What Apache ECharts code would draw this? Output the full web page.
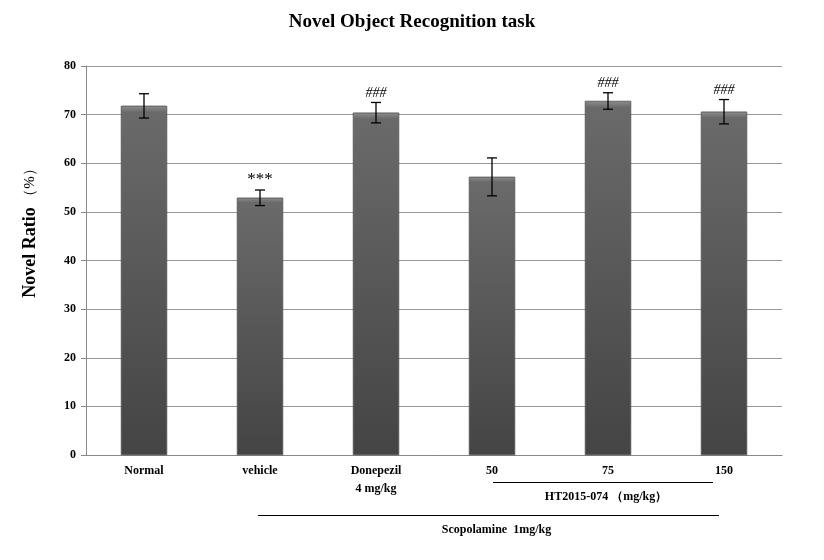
<!DOCTYPE html>
<html><head><meta charset="utf-8">
<script src="https://cdn.jsdelivr.net/npm/echarts@6/dist/echarts.min.js"></script>
<style>html,body{margin:0;padding:0;background:#fff}#c{width:824px;height:560px}</style>
</head><body><div id="c"></div>
<script>
var categories = ['Normal', 'vehicle', 'Donepezil\n4 mg/kg', '50', '75', '150'];
var values = [71.8, 52.9, 70.4, 57.2, 72.8, 70.6];
var errors = [2.5, 1.6, 2.1, 3.9, 1.7, 2.5];
var marks = ['', '***', '###', '', '###', '###'];
var yTicks = [0, 10, 20, 30, 40, 50, 60, 70, 80];

var serif = '"Liberation Serif","DejaVu Serif",serif';
var chart = echarts.init(document.getElementById('c'));
var errData = values.map(function (v, i) { return [i, v - errors[i], v + errors[i], marks[i]]; });

chart.setOption({
  animation: false,
  title: { text: 'Novel Object Recognition task', left: 'center', top: 8,
    textStyle: { fontFamily: serif, fontWeight: 'bold', fontSize: 19, color: '#000' } },
  grid: { left: 86, right: 42, top: 66, bottom: 105 },
  xAxis: { type: 'category', data: categories,
    axisLine: { lineStyle: { color: '#888' } }, axisTick: { show: false },
    axisLabel: { fontFamily: serif, fontWeight: 'bold', fontSize: 12, color: '#000', margin: 7, lineHeight: 18 } },
  yAxis: { type: 'value', min: yTicks[0], max: yTicks[yTicks.length - 1], interval: 10,
    axisLine: { show: true, lineStyle: { color: '#888' } },
    axisTick: { show: true, inside: false, length: 5, lineStyle: { color: '#888' } },
    splitLine: { lineStyle: { color: '#999', width: 1 } },
    axisLabel: { fontFamily: serif, fontWeight: 'bold', fontSize: 12, color: '#000', margin: 10 } },
  series: [
    { type: 'bar', data: values, barWidth: 46,
      itemStyle: { color: new echarts.graphic.LinearGradient(0, 0, 0, 1, [
        { offset: 0, color: '#8e8e8e' }, { offset: 0.018, color: '#6a6a6a' },
        { offset: 1, color: '#444' }]), borderColor: '#555', borderWidth: 0.5 } },
    { type: 'custom', data: errData, z: 10,
      renderItem: function (params, api) {
        var x = api.value(0);
        var lo = api.coord([x, api.value(1)]);
        var hi = api.coord([x, api.value(2)]);
        var w = 5;
        var st = { stroke: '#000', lineWidth: 1.3 };
        var children = [
          { type: 'line', shape: { x1: lo[0], y1: lo[1], x2: hi[0], y2: hi[1] }, style: st },
          { type: 'line', shape: { x1: lo[0] - w, y1: lo[1], x2: lo[0] + w, y2: lo[1] }, style: st },
          { type: 'line', shape: { x1: hi[0] - w, y1: hi[1], x2: hi[0] + w, y2: hi[1] }, style: st }
        ];
        var m = api.value(3);
        if (m) {
          children.push({ type: 'text', x: hi[0], y: hi[1] - 2,
            style: { text: m, textAlign: 'center', textVerticalAlign: 'bottom',
              fontFamily: serif, fontSize: m === '***' ? 17 : 14, fontStyle: m === '###' ? 'italic' : 'normal',
              fill: '#000' } });
        }
        return { type: 'group', children: children };
      } }
  ]
});

function drawExtras() {
  var y0 = Math.round(chart.convertToPixel({ yAxisIndex: 0 }, 0));
  var yTop = chart.convertToPixel({ yAxisIndex: 0 }, 80);
  var p50 = chart.convertToPixel({ xAxisIndex: 0 }, '50');
  var p150 = chart.convertToPixel({ xAxisIndex: 0 }, '150');
  var pVeh = chart.convertToPixel({ xAxisIndex: 0 }, 'vehicle');
  var ht1 = Math.round(p50 + 1), ht2 = Math.round(p150 - 11);
  var sc1 = Math.round(pVeh - 2), sc2 = Math.round(p150 - 5);
  var tf = { fontFamily: serif, fontWeight: 'bold', fontSize: 12, fill: '#000' };
  chart.setOption({ graphic: [
    { type: 'line', shape: { x1: ht1, y1: y0 + 27.5, x2: ht2, y2: y0 + 27.5 }, style: { stroke: '#000', lineWidth: 1 } },
    { type: 'text', x: (ht1 + ht2) / 2 + 3, y: y0 + 42, style: Object.assign({ text: 'HT2015-074 （mg/kg）', textAlign: 'center', textVerticalAlign: 'middle' }, tf) },
    { type: 'line', shape: { x1: sc1, y1: y0 + 60.5, x2: sc2, y2: y0 + 60.5 }, style: { stroke: '#000', lineWidth: 1 } },
    { type: 'text', x: (sc1 + sc2) / 2 + 8, y: y0 + 75, style: Object.assign({ text: 'Scopolamine  1mg/kg', textAlign: 'center', textVerticalAlign: 'middle' }, tf) },
    { type: 'text', x: 30, y: (y0 + yTop) / 2 - 31, rotation: Math.PI / 2,
      style: { text: '{b|Novel Ratio} {n|（%）}', textAlign: 'center', textVerticalAlign: 'middle',
        rich: { b: { fontFamily: serif, fontWeight: 'bold', fontSize: 18, fill: '#000' },
                n: { fontFamily: serif, fontSize: 15, fill: '#000' } } } }
  ] });
}
drawExtras();
</script></body></html>
